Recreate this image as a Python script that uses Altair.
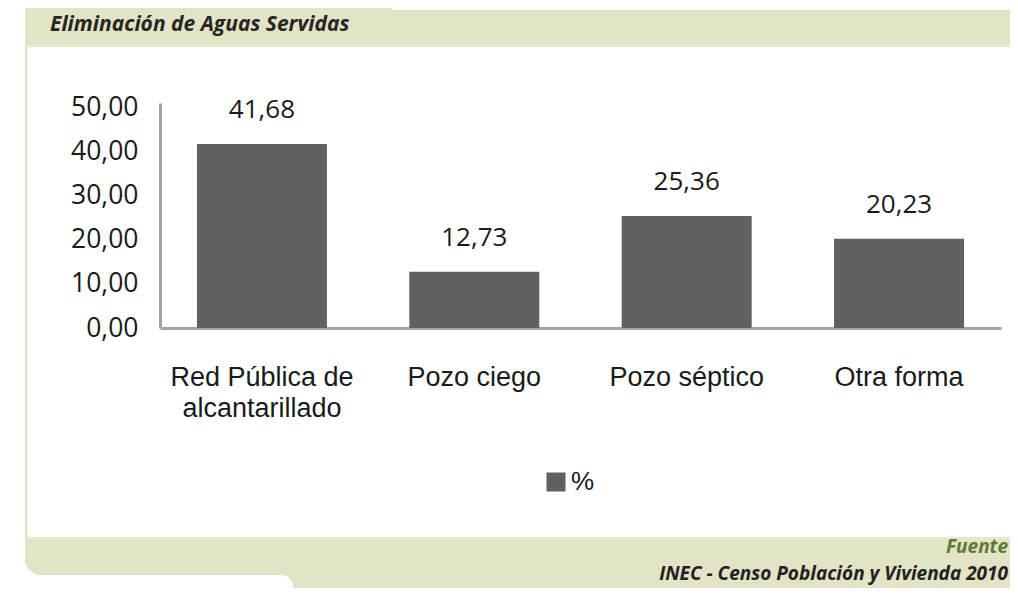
import altair as alt
import pandas as pd

# ---- data ----
categories = ["Red Pública de\nalcantarillado", "Pozo ciego", "Pozo séptico", "Otra forma"]
values = [41.68, 12.73, 25.36, 20.23]
series_name = "%"
y_ticks = [0, 10, 20, 30, 40, 50]

title_text = "Eliminación de Aguas Servidas"
source_label = "Fuente"
source_text = "INEC - Censo Población y Vivienda 2010"

df = pd.DataFrame({"categoria": categories, "valor": values, "serie": [series_name] * len(values)})

BEIGE = "#E3E3C5"
BAR = "#616161"
AXIS = "#A3A3A7"
TEXT = "#1a1a1a"

W, H = 841, 225

x_enc = alt.X(
    "categoria:N",
    sort=categories,
    scale=alt.Scale(paddingInner=0.388, paddingOuter=0.174),
    axis=alt.Axis(
        title=None, labelAngle=0, labelExpr="split(datum.label, '\\n')",
        labelFont="Liberation Sans", labelFontSize=27, labelColor=TEXT,
        labelLineHeight=31, labelPadding=36, labelLimit=0,
        ticks=False, tickSize=0, domainColor=AXIS, domainWidth=3,
    ),
)
y_enc = alt.Y(
    "valor:Q",
    scale=alt.Scale(domain=[0, 51], nice=False, zero=True),
    axis=alt.Axis(
        title=None, values=y_ticks,
        labelExpr="replace(format(datum.value, '.2f'), '.', ',')",
        labelFont="Open Sans", labelFontSize=26.5, labelColor=TEXT,
        labelPadding=22, ticks=False, tickSize=0, grid=False,
        domainColor=AXIS, domainWidth=3,
    ),
)

base = alt.Chart(df)

bars = base.mark_bar(size=130).encode(
    x=x_enc,
    y=y_enc,
    color=alt.Color(
        "serie:N",
        scale=alt.Scale(range=[BAR]),
        legend=alt.Legend(
            title=None, orient="none", legendX=383, legendY=366,
            symbolType="square", symbolSize=361, symbolStrokeWidth=0,
            symbolFillColor=BAR,
            labelFont="Liberation Sans", labelFontSize=26, labelColor=TEXT,
            labelOffset=2, padding=0,
        ),
    ),
)

labels = base.transform_calculate(
    etiqueta="replace(format(datum.valor, '.2f'), '.', ',')"
).mark_text(
    dy=-26, baseline="alphabetic", align="center",
    font="Open Sans", fontSize=26, color=TEXT,
).encode(
    x=alt.X("categoria:N", sort=categories),
    y=alt.Y("valor:Q"),
    text="etiqueta:N",
)

one = pd.DataFrame({"d": [0]})


def deco_rect(x1, x2, y1, y2, color, **kw):
    return alt.Chart(one).mark_rect(color=color, **kw).encode(
        x=alt.value(x1), x2=alt.value(x2), y=alt.value(y1), y2=alt.value(y2)
    )


def deco_text(txt, xv, yv, **kw):
    return alt.Chart(one).mark_text(**kw).encode(
        x=alt.value(xv), y=alt.value(yv), text=alt.value(txt)
    )


RIGHT = 850
decor = [
    # header band
    deco_rect(-135, 232, -95, -56, BEIGE),
    deco_rect(215, RIGHT, -93, -56, BEIGE),
    deco_rect(-135, RIGHT, -58.5, -57.2, "#ECECD8"),
    # left border
    deco_rect(-135, -132.5, -56, 434, BEIGE),
    # footer band
    deco_rect(-135, RIGHT, 434, 472, BEIGE, cornerRadiusBottomLeft=16),
    deco_rect(-132.5, RIGHT, 435.2, 436.5, "#ECECD8"),
    deco_rect(102, RIGHT, 469, 490, BEIGE),
    deco_rect(40, 133, 472, 495, "white", cornerRadiusTopRight=22),
]

texts = [
    deco_text(title_text, -110, -72, align="left", baseline="alphabetic",
              font="Open Sans", fontStyle="italic", fontWeight="bold", fontSize=21, color="#262626"),
    deco_text(source_label, RIGHT - 2, 450, align="right", baseline="alphabetic",
              font="Open Sans", fontStyle="italic", fontWeight="bold", fontSize=19, color="#5E7A36"),
    deco_text(source_text, RIGHT - 2, 477, align="right", baseline="alphabetic",
              font="Open Sans", fontStyle="italic", fontWeight="bold", fontSize=19, color="#222222"),
]

chart = alt.layer(*decor, bars, labels, *texts).properties(
    width=W, height=H,
    padding={"left": 152, "top": 95, "right": 1002 - 152 - W, "bottom": 580 - 95 - H},
    autosize=alt.AutoSizeParams(type="none"),
    background="white",
).configure_view(strokeWidth=0)

chart.save("out.html", embed_options={"renderer": "svg", "actions": False})
